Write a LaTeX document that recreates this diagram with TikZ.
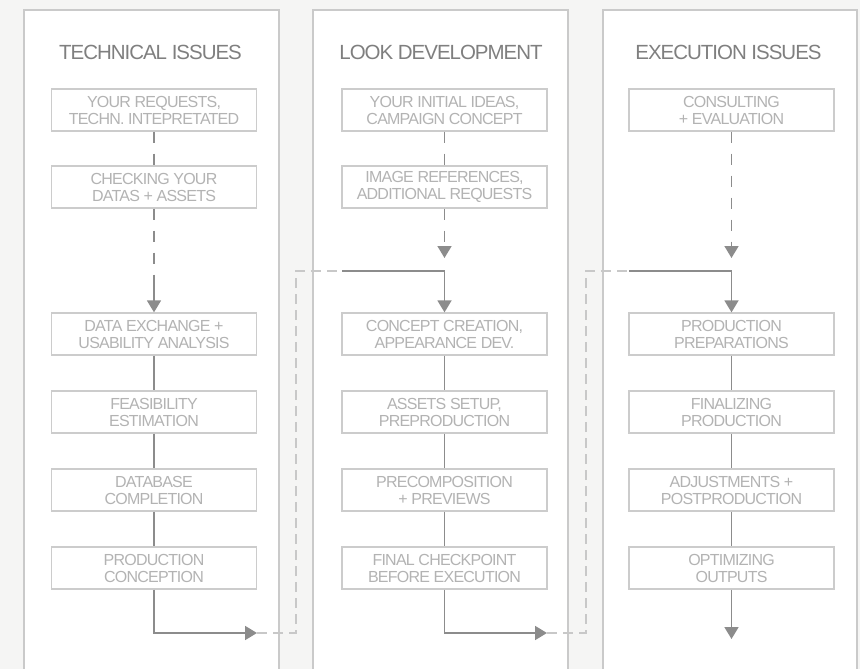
\documentclass[tikz,border=0pt]{standalone}
\usepackage{fontspec}
\setmainfont{Liberation Sans}
\usetikzlibrary{arrows.meta,calc}
\definecolor{bgc}{HTML}{F5F5F4}
\definecolor{panelc}{HTML}{CACACA}
\definecolor{boxc}{HTML}{CCCCCC}
\definecolor{txtc}{HTML}{B3B3B3}
\definecolor{titc}{HTML}{7F7F7F}
\definecolor{linec}{HTML}{8C8C8C}
\definecolor{lightc}{HTML}{C8C8C8}
\tikzset{
  panel/.style={draw=panelc,fill=white,line width=1.2pt},
  stepbox/.style={draw=boxc,line width=1.3pt,fill=white,minimum width=205pt,minimum height=42pt,
    inner sep=0pt,align=center,text=txtc,font=\fontsize{16}{17}\selectfont\addfontfeatures{LetterSpace=-4.8}},
  ttl/.style={text=titc,anchor=base,inner sep=0pt,font=\fontsize{20.5}{22}\selectfont\addfontfeatures{LetterSpace=-5}},
  conn/.style={draw=linec,line width=1.8pt},
  dconn/.style={draw=linec,line width=1.6pt,dash pattern=on 11pt off 11pt},
  lconn/.style={draw=lightc,line width=1.6pt,dash pattern=on 10pt off 6pt},
  arr/.style={-{Triangle[length=12pt,width=14pt]}}
}
\begin{document}
\begin{tikzpicture}[x=1pt,y=-1pt]
\useasboundingbox (0,0) rectangle (860,669);
\fill[bgc] (0,0) rectangle (860,669);
\draw[panel] (24,10) rectangle (279,690);
\draw[panel] (313,10) rectangle (568,690);
\draw[panel] (603,10) rectangle (857,690);

\node[ttl] (t1) at (150.5,60) {TECHNICAL ISSUES};
\node[ttl] (t2) at (441,60) {LOOK DEVELOPMENT};
\node[ttl] (t3) at (728.5,60) {EXECUTION ISSUES};

% column 1
\node[stepbox] (a1) at (154,110) {YOUR REQUESTS,\\TECHN. INTEPRETATED};
\node[stepbox] (a2) at (154,187) {CHECKING YOUR\\DATAS + ASSETS};
\node[stepbox] (a3) at (154,334) {DATA EXCHANGE +\\USABILITY ANALYSIS};
\node[stepbox] (a4) at (154,412) {FEASIBILITY\\ESTIMATION};
\node[stepbox] (a5) at (154,490) {DATABASE\\COMPLETION};
\node[stepbox] (a6) at (154,568) {PRODUCTION\\CONCEPTION};
% column 2
\node[stepbox] (b1) at (444.5,110) {YOUR INITIAL IDEAS,\\CAMPAIGN CONCEPT};
\node[stepbox] (b2) at (444.5,187) {IMAGE REFERENCES,\\ADDITIONAL REQUESTS};
\node[stepbox] (b3) at (444.5,334) {CONCEPT CREATION,\\APPEARANCE DEV.};
\node[stepbox] (b4) at (444.5,412) {ASSETS SETUP,\\PREPRODUCTION};
\node[stepbox] (b5) at (444.5,490) {PRECOMPOSITION\\+ PREVIEWS};
\node[stepbox] (b6) at (444.5,568) {FINAL CHECKPOINT\\BEFORE EXECUTION};
% column 3
\node[stepbox] (c1) at (731.5,110) {CONSULTING\\+ EVALUATION};
\node[stepbox] (c3) at (731.5,334) {PRODUCTION\\PREPARATIONS};
\node[stepbox] (c4) at (731.5,412) {FINALIZING\\PRODUCTION};
\node[stepbox] (c5) at (731.5,490) {ADJUSTMENTS +\\POSTPRODUCTION};
\node[stepbox] (c6) at (731.5,568) {OPTIMIZING\\OUTPUTS};

% helper coordinates
\coordinate (am) at (154,275);
\coordinate (ae) at (257,633);
\coordinate (la) at (296,633);
\coordinate (lb) at (296,271);
\coordinate (bj) at (342,271);
\coordinate (bt) at (444.5,258);
\coordinate (be) at (547,633);
\coordinate (lc) at (586,633);
\coordinate (ld) at (586,271);
\coordinate (cj) at (629,271);
\coordinate (ct) at (731.5,258);
\coordinate (ce) at (731.5,639);

% column 1 connectors
\draw[dconn] (a1.south) -- (a2.north);
\draw[dconn] (a2.south) -- (am);
\draw[conn,arr] (am) -- (a3.north);
\draw[conn] (a3.south) -- (a4.north);
\draw[conn] (a4.south) -- (a5.north);
\draw[conn] (a5.south) -- (a6.north);
\draw[conn,arr] (a6.south) |- (ae);
\draw[lconn] (ae) -- (la) -- (lb) -- (bj);
\draw[conn,arr] (bj) -| (b3.north);

% column 2 connectors
\draw[dconn] (b1.south) -- (b2.north);
\draw[dconn,arr] (b2.south) -- (bt);
\draw[conn] (b3.south) -- (b4.north);
\draw[conn] (b4.south) -- (b5.north);
\draw[conn] (b5.south) -- (b6.north);
\draw[conn,arr] (b6.south) |- (be);
\draw[lconn] (be) -- (lc) -- (ld) -- (cj);
\draw[conn,arr] (cj) -| (c3.north);

% column 3 connectors
\draw[dconn,arr] (c1.south) -- (ct);
\draw[conn] (c3.south) -- (c4.north);
\draw[conn] (c4.south) -- (c5.north);
\draw[conn] (c5.south) -- (c6.north);
\draw[conn,arr] (c6.south) -- (ce);
\end{tikzpicture}
\end{document}
